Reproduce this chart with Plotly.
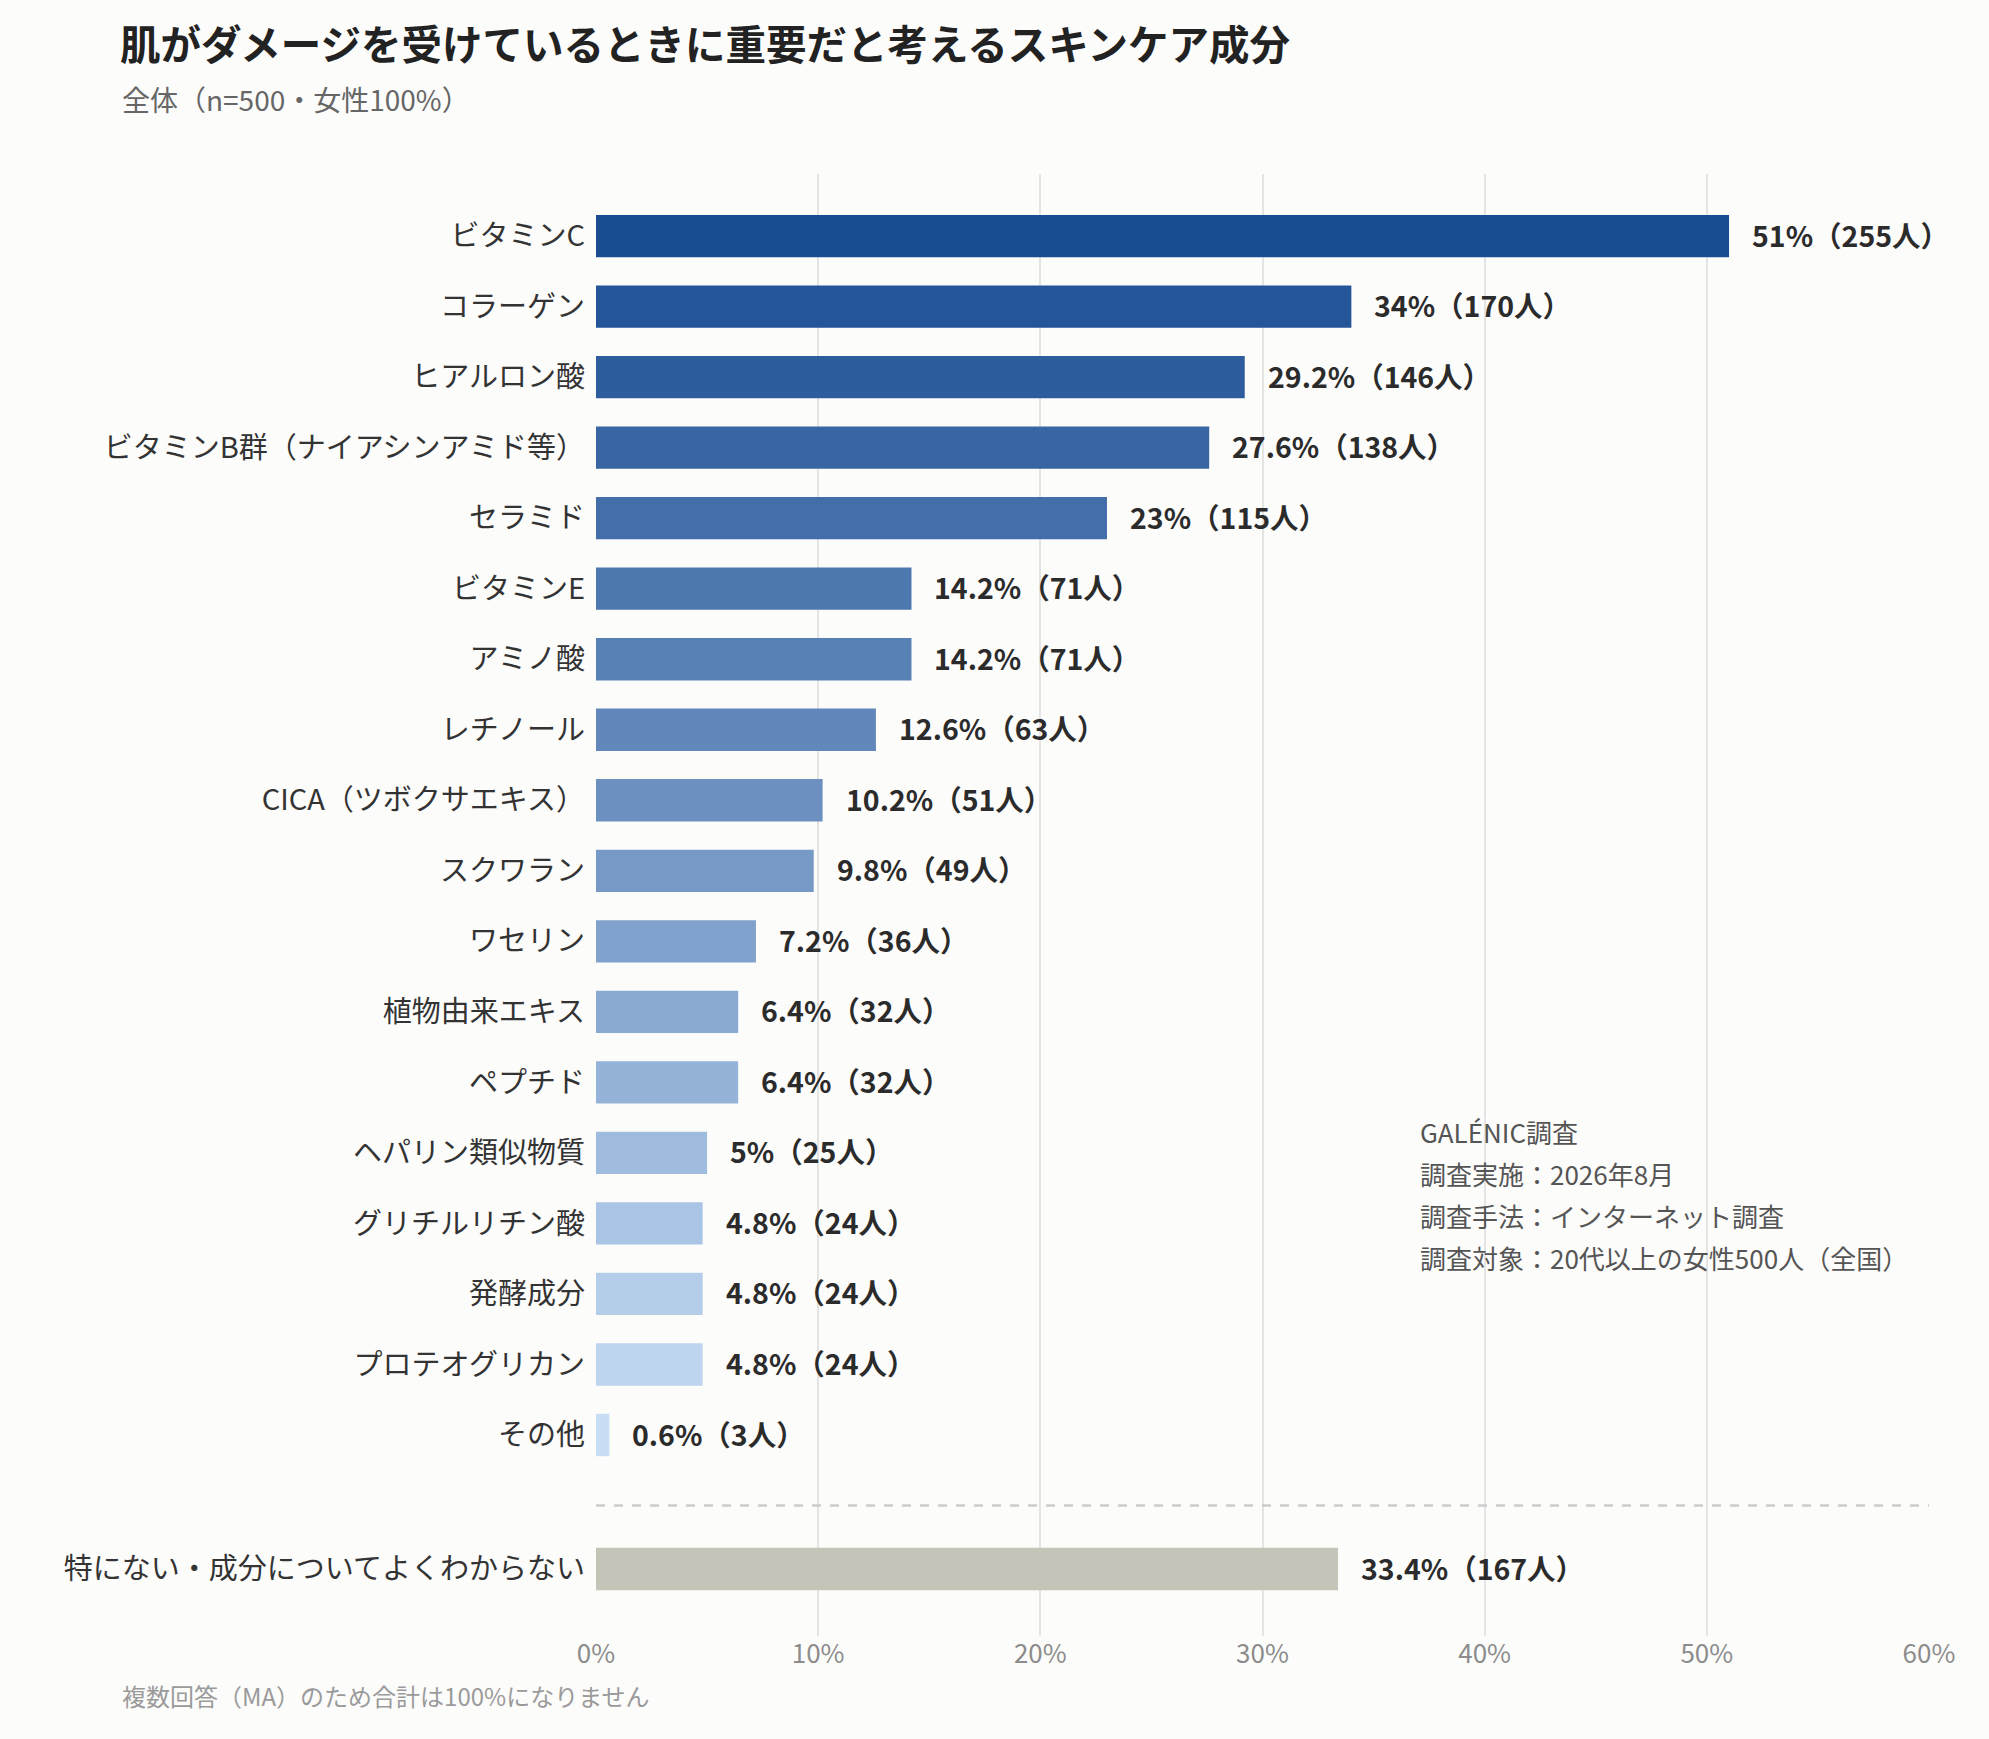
import plotly.graph_objects as go

# ---- data ----
categories = [
    "ビタミンC", "コラーゲン", "ヒアルロン酸", "ビタミンB群（ナイアシンアミド等）",
    "セラミド", "ビタミンE", "アミノ酸", "レチノール", "CICA（ツボクサエキス）",
    "スクワラン", "ワセリン", "植物由来エキス", "ペプチド", "ヘパリン類似物質",
    "グリチルリチン酸", "発酵成分", "プロテオグリカン", "その他",
]
percents = [51, 34, 29.2, 27.6, 23, 14.2, 14.2, 12.6, 10.2, 9.8, 7.2, 6.4, 6.4, 5, 4.8, 4.8, 4.8, 0.6]
counts = [255, 170, 146, 138, 115, 71, 71, 63, 51, 49, 36, 32, 32, 25, 24, 24, 24, 3]

none_label = "特にない・成分についてよくわからない"
none_percent = 33.4
none_count = 167

x_ticks = [0, 10, 20, 30, 40, 50, 60]
x_tick_labels = ["0%", "10%", "20%", "30%", "40%", "50%", "60%"]

title = "肌がダメージを受けているときに重要だと考えるスキンケア成分"
subtitle = "全体（n=500・女性100%）"
footnote = "複数回答（MA）のため合計は100%になりません"
source_lines = [
    "GALÉNIC調査",
    "調査実施：2026年8月",
    "調査手法：インターネット調査",
    "調査対象：20代以上の女性500人（全国）",
]

# ---- styles / layout ----
FONT = "Noto Sans CJK JP"
BG = "#fcfcfb"
W, H = 1989, 1739
L, R, T, B = 596, 60, 174, 103
PW, PH = W - L - R, H - T - B

def px_x(x):
    return (x - L) / PW

def px_y(y):
    return (T + PH - y) / PH

def lerp_color(c1, c2, t):
    a = [int(c1[i:i + 2], 16) for i in (1, 3, 5)]
    b = [int(c2[i:i + 2], 16) for i in (1, 3, 5)]
    return "#" + "".join(f"{round(a[k] + (b[k] - a[k]) * t):02x}" for k in range(3))

n = len(categories)
colors = [lerp_color("#1a4c92", "#c8def5", i / (n - 1)) for i in range(n)]
none_color = "#c4c4b8"

y_pos = list(range(n))
none_pos = n + 0.9
divider_pos = n

fig = go.Figure()
fig.add_trace(go.Bar(
    x=percents, y=y_pos, orientation="h", width=0.6,
    marker=dict(color=colors, line=dict(width=0)),
    hoverinfo="skip",
))
fig.add_trace(go.Bar(
    x=[none_percent], y=[none_pos], orientation="h", width=0.6,
    marker=dict(color=none_color, line=dict(width=0)),
    hoverinfo="skip",
))

# value labels
for v, c, yy in zip(percents + [none_percent], counts + [none_count], y_pos + [none_pos]):
    fig.add_annotation(
        x=v, y=yy, xref="x", yref="y", text=f"{v:g}%（{c}人）",
        showarrow=False, xanchor="left", yanchor="middle", xshift=21, yshift=2,
        font=dict(family=FONT, size=28.5, color="#2b2b2b", weight=700),
    )

# divider
fig.add_shape(type="line", xref="paper", yref="y", x0=0, x1=1,
              y0=divider_pos, y1=divider_pos,
              line=dict(color="#cccccc", width=2.5, dash="dash"))

# subtitle
fig.add_annotation(x=px_x(120), y=px_y(99), xref="paper", yref="paper",
                   text=subtitle, showarrow=False, xanchor="left", yanchor="middle",
                   font=dict(family=FONT, size=28, color="#666666"))
# footnote
fig.add_annotation(x=px_x(120), y=px_y(1695), xref="paper", yref="paper",
                   text=footnote, showarrow=False, xanchor="left", yanchor="middle",
                   font=dict(family=FONT, size=24, color="#9a9a9a"))
# source box
for i, line in enumerate(source_lines):
    fig.add_annotation(x=px_x(1418), y=px_y(1131 + 42 * i), xref="paper", yref="paper",
                       text=line, showarrow=False, xanchor="left", yanchor="middle",
                       font=dict(family=FONT, size=26, color="#555555"))

fig.update_layout(
    width=W, height=H,
    margin=dict(l=L, r=R, t=T, b=B),
    paper_bgcolor=BG, plot_bgcolor=BG,
    showlegend=False,
    barmode="overlay",
    font=dict(family=FONT),
    title=dict(text=title, x=120 / W, xanchor="left", xref="container",
               y=1 - 46 / H, yanchor="middle", yref="container",
               font=dict(family=FONT, size=40.5, color="#222222", weight=700)),
    xaxis=dict(range=[0, 60], tickvals=x_ticks, ticktext=x_tick_labels,
               showgrid=True, gridcolor="#e4e4e4", gridwidth=1.5,
               zeroline=False, showline=False, ticks="",
               tickfont=dict(family=FONT, size=26, color="#8c8c8c")),
    yaxis=dict(range=[19.85, -0.88], tickvals=y_pos + [none_pos],
               ticktext=categories + [none_label],
               showgrid=False, zeroline=False, showline=False, ticks="",
               ticklabelstandoff=10,
               tickfont=dict(family=FONT, size=29, color="#333333")),
)

fig.write_html(
    "out.html",
    config={"displayModeBar": False},
    post_script="document.body.style.margin='0';document.body.style.background='" + BG + "';",
)
